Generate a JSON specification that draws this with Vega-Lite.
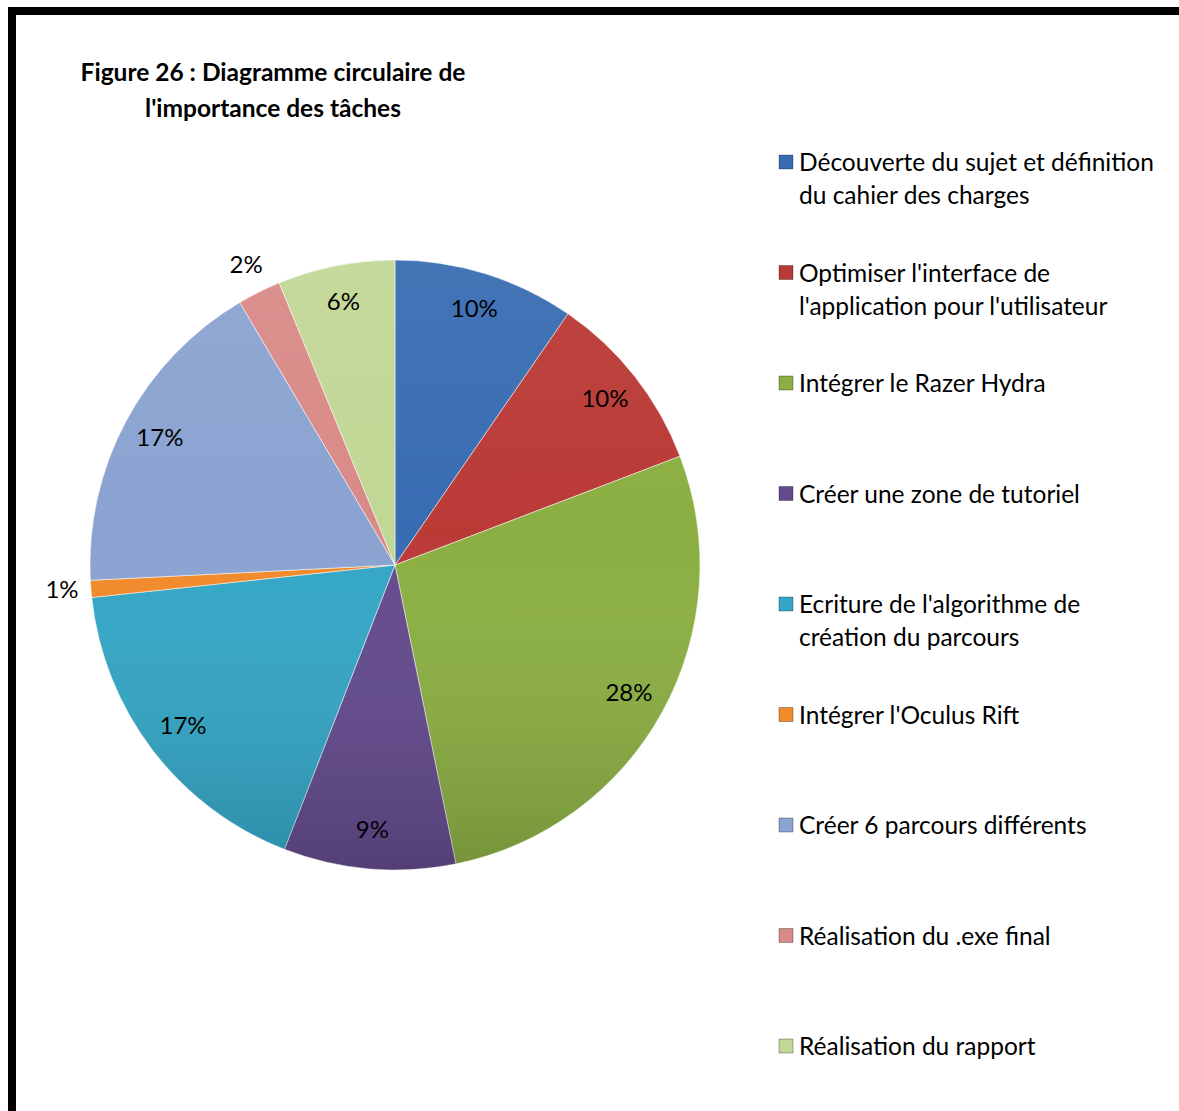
{
  "$schema": "https://vega.github.io/schema/vega-lite/v6.json",
  "background": "white",
  "padding": {"left": 8, "top": 7, "right": 0, "bottom": 0},
  "spacing": 0,
  "bounds": "flush",
  "datasets": {
    "tasks": [
      {"idx": 1, "task": "Découverte du sujet et définition\ndu cahier des charges", "share": 0.096},
      {"idx": 2, "task": "Optimiser l'interface de\nl'application pour l'utilisateur", "share": 0.096},
      {"idx": 3, "task": "Intégrer le Razer Hydra", "share": 0.276},
      {"idx": 4, "task": "Créer une zone de tutoriel", "share": 0.091},
      {"idx": 5, "task": "Ecriture de l'algorithme de\ncréation du parcours", "share": 0.174},
      {"idx": 6, "task": "Intégrer l'Oculus Rift", "share": 0.009},
      {"idx": 7, "task": "Créer 6 parcours différents", "share": 0.173},
      {"idx": 8, "task": "Réalisation du .exe final", "share": 0.023},
      {"idx": 9, "task": "Réalisation du rapport", "share": 0.062}
    ]
  },
  "hconcat": [
    {
      "width": 766,
      "height": 1108,
      "view": {"stroke": "black", "strokeWidth": 8, "strokeCap": "round", "strokeDash": [766, 1874, 1118]},
      "title": {
        "text": ["Figure 26 : Diagramme circulaire de", "l'importance des tâches"],
        "anchor": "middle",
        "dx": -122,
        "offset": -111,
        "fontSize": 24.5,
        "fontWeight": "bold",
        "font": "Lato",
        "color": "black",
        "lineHeight": 36
      },
      "layer": [
        {
          "data": {"name": "tasks"},
          "mark": {"type": "arc", "outerRadius": 305, "stroke": "white", "strokeWidth": 1, "strokeOpacity": 0.5},
          "encoding": {
            "theta": {"field": "share", "type": "quantitative", "stack": true},
            "order": {"field": "idx", "type": "quantitative"},
            "color": {
              "field": "task",
              "type": "nominal",
              "sort": null,
              "scale": {
                "domain": [
                  "Découverte du sujet et définition\ndu cahier des charges",
                  "Optimiser l'interface de\nl'application pour l'utilisateur",
                  "Intégrer le Razer Hydra",
                  "Créer une zone de tutoriel",
                  "Ecriture de l'algorithme de\ncréation du parcours",
                  "Intégrer l'Oculus Rift",
                  "Créer 6 parcours différents",
                  "Réalisation du .exe final",
                  "Réalisation du rapport"
                ],
                "range": ["#386CB2", "#BA3A36", "#8BAF42", "#634A8D", "#33A6C6", "#F28A2A", "#8BA3D1", "#D98A88", "#C1D795"]
              },
              "legend": null
            }
          }
        },
        {
          "data": {"values": [{"whole": 1}]},
          "mark": {
            "type": "arc",
            "outerRadius": 305,
            "fill": {
              "gradient": "linear",
              "x1": 0, "y1": 0, "x2": 0, "y2": 1,
              "stops": [
                {"offset": 0, "color": "rgba(255,255,255,0.06)"},
                {"offset": 0.45, "color": "rgba(255,255,255,0)"},
                {"offset": 1, "color": "rgba(0,0,0,0.16)"}
              ]
            }
          },
          "encoding": {
            "theta": {"field": "whole", "type": "quantitative"}
          }
        },
        {
          "data": {"name": "tasks"},
          "mark": {
            "type": "text",
            "radius": {"expr": "datum.share < 0.03 ? 334 : 267"},
            "fontSize": 24,
            "font": "Lato",
            "color": "black"
          },
          "encoding": {
            "theta": {"field": "share", "type": "quantitative", "stack": true},
            "order": {"field": "idx", "type": "quantitative"},
            "detail": {"field": "task", "type": "nominal"},
            "text": {"field": "share", "type": "quantitative", "format": ".0%"}
          }
        }
      ]
    },
    {
      "width": 401,
      "height": 1108,
      "view": {"stroke": "black", "strokeWidth": 8, "strokeCap": "round", "strokeDash": [401, 10000]},
      "data": {"name": "tasks"},
      "encoding": {
        "y": {"field": "task", "type": "nominal", "sort": null, "scale": {"type": "point", "padding": 0, "range": [151, 1035]}, "axis": null},
        "x": {"datum": 0, "type": "quantitative", "scale": {"domain": [0, 1], "range": [8, 401]}, "axis": null}
      },
      "layer": [
        {
          "mark": {"type": "square", "size": 196, "opacity": 1, "stroke": "rgba(0,0,0,0.3)", "strokeWidth": 1},
          "encoding": {
            "color": {"field": "task", "type": "nominal", "sort": null, "legend": null}
          }
        },
        {
          "mark": {
            "type": "text",
            "align": "left",
            "baseline": "top",
            "dx": 13,
            "dy": -10,
            "lineBreak": "\n",
            "lineHeight": 33,
            "fontSize": 24.5,
            "font": "Lato",
            "color": "black"
          },
          "encoding": {"text": {"field": "task", "type": "nominal"}}
        }
      ]
    }
  ],
  "config": {
    "font": "Lato",
    "view": {"stroke": "black", "strokeWidth": 8, "strokeCap": "round"}
  }
}
